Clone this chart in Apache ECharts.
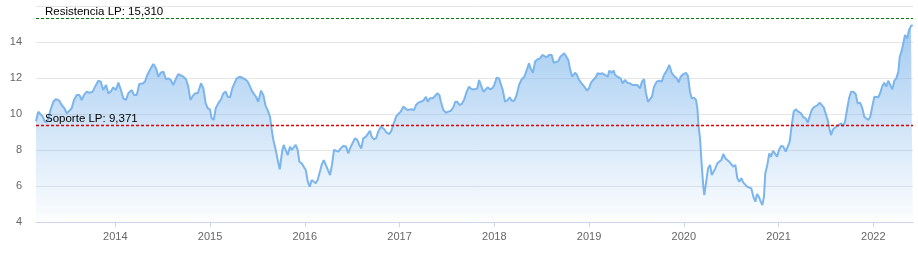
<!DOCTYPE html>
<html>
<head>
<meta charset="utf-8">
<script src="https://cdn.jsdelivr.net/npm/echarts@6/dist/echarts.min.js"></script>
<style>
html,body{margin:0;padding:0;background:#fff;}
#chart{width:918px;height:256px;}
</style>
</head>
<body>
<div id="chart"></div>
<script>
// Dates as decimal years
const dates = [
2013.163,2013.187,2013.205,2013.234,2013.258,2013.282,2013.311,2013.346,2013.374,2013.409,2013.434,2013.462,2013.487,2013.515,2013.540,2013.564,2013.593,2013.620,2013.645,2013.670,2013.698,2013.726,2013.761,2013.786,2013.821,2013.846,2013.873,2013.902,2013.926,2013.951,2013.979,
2014.007,2014.032,2014.057,2014.084,2014.113,2014.137,2014.173,2014.197,2014.226,2014.253,2014.289,2014.313,2014.338,2014.374,2014.401,2014.430,2014.454,2014.479,2014.507,2014.535,2014.559,2014.585,2014.612,2014.641,2014.665,2014.683,2014.718,2014.746,2014.770,2014.792,2014.813,2014.841,2014.870,2014.905,2014.929,2014.954,2014.975,2014.999,
2015.017,2015.039,2015.060,2015.087,2015.116,2015.140,2015.165,2015.186,2015.211,2015.235,2015.256,2015.281,2015.316,2015.334,2015.369,2015.397,2015.422,2015.446,2015.467,2015.485,2015.509,2015.538,2015.562,2015.587,2015.608,2015.633,2015.651,2015.668,2015.693,2015.714,2015.735,2015.749,2015.763,2015.777,2015.798,2015.820,2015.844,2015.862,2015.883,2015.904,2015.925,2015.942,2015.967,2015.988,
2016.010,2016.031,2016.052,2016.073,2016.094,2016.115,2016.136,2016.157,2016.178,2016.200,2016.213,2016.237,2016.266,2016.287,2016.308,2016.329,2016.354,2016.379,2016.406,2016.435,2016.459,2016.477,2016.498,2016.530,2016.554,2016.575,2016.596,2016.617,2016.646,2016.667,2016.688,2016.706,2016.730,2016.752,2016.776,2016.801,2016.822,2016.839,2016.864,2016.889,2016.910,2016.934,2016.963,2016.987,
2017.012,2017.040,2017.061,2017.082,2017.103,2017.128,2017.153,2017.174,2017.198,2017.223,2017.251,2017.279,2017.297,2017.321,2017.350,2017.374,2017.398,2017.420,2017.437,2017.462,2017.490,2017.514,2017.540,2017.567,2017.588,2017.610,2017.631,2017.656,2017.680,2017.709,2017.733,2017.762,2017.796,2017.821,2017.839,2017.860,2017.884,2017.902,2017.930,2017.955,2017.979,
2018.000,2018.025,2018.050,2018.071,2018.089,2018.113,2018.141,2018.163,2018.184,2018.211,2018.236,2018.261,2018.289,2018.317,2018.342,2018.366,2018.387,2018.408,2018.430,2018.458,2018.482,2018.507,2018.528,2018.553,2018.577,2018.606,2018.627,2018.648,2018.676,2018.697,2018.718,2018.739,2018.760,2018.781,2018.802,2018.823,2018.852,2018.873,2018.894,2018.922,2018.950,2018.978,
2019.000,2019.021,2019.045,2019.070,2019.091,2019.116,2019.140,2019.168,2019.197,2019.214,2019.239,2019.260,2019.274,2019.309,2019.334,2019.355,2019.379,2019.404,2019.432,2019.461,2019.485,2019.509,2019.538,2019.559,2019.580,2019.601,2019.622,2019.643,2019.664,2019.686,2019.714,2019.741,2019.767,2019.791,2019.820,2019.847,2019.872,2019.897,2019.925,2019.946,2019.967,2019.995,
2020.023,2020.044,2020.065,2020.083,2020.108,2020.129,2020.143,2020.157,2020.171,2020.189,2020.206,2020.216,2020.234,2020.256,2020.277,2020.295,2020.311,2020.333,2020.354,2020.375,2020.396,2020.417,2020.438,2020.459,2020.480,2020.501,2020.522,2020.544,2020.565,2020.586,2020.607,2020.628,2020.649,2020.670,2020.691,2020.712,2020.734,2020.755,2020.773,2020.791,2020.812,2020.829,2020.846,2020.860,2020.881,2020.902,2020.920,2020.942,2020.963,2020.984,
2021.005,2021.026,2021.050,2021.076,2021.097,2021.118,2021.139,2021.160,2021.181,2021.209,2021.237,2021.261,2021.287,2021.308,2021.329,2021.350,2021.371,2021.392,2021.413,2021.434,2021.455,2021.477,2021.498,2021.519,2021.536,2021.554,2021.575,2021.596,2021.617,2021.638,2021.659,2021.680,2021.701,2021.722,2021.744,2021.765,2021.789,2021.814,2021.835,2021.860,2021.884,2021.905,2021.926,2021.947,2021.968,2021.989,
2022.011,2022.032,2022.053,2022.074,2022.095,2022.116,2022.137,2022.158,2022.179,2022.201,2022.222,2022.243,2022.264,2022.279,2022.300,2022.321,2022.335,2022.356,2022.377,2022.398,2022.416
];
const values = [
9.60,10.13,10.17,9.85,9.57,9.57,10.13,10.68,10.83,10.74,10.50,10.32,10.04,10.18,10.32,10.78,11.06,11.06,10.78,11.06,11.24,11.18,11.24,11.52,11.85,11.80,11.33,11.61,11.15,11.24,11.48,
11.33,11.74,11.37,10.87,10.78,11.15,11.33,11.06,11.06,11.67,11.70,11.80,12.17,12.54,12.78,12.54,12.07,12.29,12.35,11.93,11.98,11.89,11.61,11.98,12.22,12.22,12.07,11.93,11.52,10.78,10.96,11.15,11.15,11.70,11.43,10.59,10.32,10.26,
9.76,9.67,10.32,10.59,10.82,11.15,11.24,10.96,10.93,11.43,11.52,11.98,12.07,12.13,11.93,11.80,11.52,11.24,11.15,10.96,10.68,11.30,11.06,10.44,10.22,9.85,9.11,8.56,8.00,7.44,6.93,6.98,8.00,8.28,8.00,7.72,8.19,8.00,8.09,8.28,8.00,7.35,7.26,7.30,
6.89,6.24,5.96,6.33,6.37,6.15,6.33,6.33,7.17,7.44,7.35,6.98,6.61,7.17,8.00,8.09,7.91,8.09,8.22,8.19,7.81,8.09,8.00,8.65,8.56,8.28,8.09,8.65,8.74,8.70,9.07,8.74,8.59,8.65,9.02,9.30,9.39,9.15,8.96,8.89,9.02,9.39,9.85,10.00,
10.13,10.41,10.46,10.22,10.22,10.26,10.22,10.50,10.63,10.68,10.74,10.96,10.68,10.87,10.87,11.00,11.15,11.06,10.68,10.22,10.07,10.13,10.17,10.37,10.68,10.68,10.50,10.56,10.78,11.24,11.52,11.37,11.37,11.43,11.89,11.80,11.24,11.18,11.48,11.37,11.43,
11.61,12.02,11.98,11.93,11.33,10.68,10.78,10.93,10.74,10.74,11.06,11.61,11.93,12.07,12.44,12.81,12.48,12.29,12.91,13.04,13.09,13.28,13.37,13.15,13.28,13.28,12.85,12.91,12.94,13.18,13.22,13.37,13.41,13.00,12.44,12.07,12.29,12.17,11.89,11.70,11.52,11.30,
11.43,11.74,11.89,12.04,12.26,12.22,12.26,12.17,12.07,12.41,12.29,12.41,12.17,12.04,11.98,11.70,11.89,11.74,11.70,11.61,11.61,11.61,11.43,11.80,11.93,11.15,10.68,10.63,10.96,11.52,11.80,11.85,11.80,12.17,12.41,12.72,12.29,12.11,11.98,11.76,12.07,12.22,
12.29,12.11,11.24,10.87,10.91,10.78,10.32,9.30,8.65,7.17,5.96,5.50,6.15,6.98,7.17,6.61,6.56,6.98,7.26,7.17,7.44,7.78,7.54,7.44,7.35,7.22,7.07,7.17,6.43,6.24,6.43,6.19,6.24,5.96,5.93,5.87,5.41,5.13,5.56,5.41,5.13,4.94,5.41,6.70,7.17,7.81,7.63,7.96,7.85,7.63,
8.00,8.22,8.19,7.91,8.00,8.46,9.39,10.13,10.26,10.13,10.04,9.82,9.76,9.52,9.57,10.22,10.37,10.41,10.50,10.63,10.59,10.37,10.32,9.67,9.20,8.83,9.15,9.26,9.33,9.26,9.48,9.33,9.57,10.22,10.87,11.24,11.24,11.11,10.59,10.63,10.32,9.85,9.94,9.67,9.85,10.41,
10.96,11.00,10.93,11.18,11.56,11.74,11.52,11.85,11.89,11.37,11.85,11.98,12.35,13.18,13.52,13.46,14.39,14.20,14.67,14.89,14.94
];
const yearTicks = [2014,2015,2016,2017,2018,2019,2020,2021,2022];
const resistencia = 15.310;
const soporte = 9.371;
const resistenciaLabel = 'Resistencia LP: 15,310';
const soporteLabel = 'Soporte LP: 9,371';

const seriesData = dates.map((d, i) => [d, values[i]]);
const font = 'Liberation Sans, Arial, sans-serif';

function levelSeries(name, value, label, color, width) {
  return {
    name: name,
    type: 'line',
    data: [],
    color: color,
    silent: true,
    z: 10,
    markLine: {
      silent: true,
      symbol: 'none',
      animation: false,
      z: 10,
      lineStyle: {color: color, type: [3, 2], width: width, opacity: 1},
      label: {
        show: true, position: 'insideStartTop', distance: [9, 1],
        formatter: label,
        color: '#000000', fontSize: 11.5, fontFamily: font
      },
      emphasis: {disabled: true},
      data: [{yAxis: value, lineStyle: {color: color}}]
    }
  };
}

const chart = echarts.init(document.getElementById('chart'), null, {renderer: 'canvas'});
chart.setOption({
  animation: false,
  grid: {left: 36, right: 5, top: 6, bottom: 34, containLabel: false},
  xAxis: {
    type: 'value',
    min: 2013.163,
    max: 2022.419,
    axisLine: {show: true, lineStyle: {color: '#ccd6eb', width: 1}},
    axisTick: {show: true, customValues: yearTicks, length: 5, lineStyle: {color: '#ccd6eb'}},
    axisLabel: {customValues: yearTicks, formatter: v => String(Math.round(v)), color: '#666666', fontSize: 11, fontFamily: font, margin: 9},
    splitLine: {show: false}
  },
  yAxis: {
    type: 'value',
    min: 4, max: 16, interval: 2,
    axisLine: {show: false},
    axisTick: {show: false},
    splitLine: {lineStyle: {color: '#e6e6e6', width: 1}},
    axisLabel: {
      color: '#666666', fontSize: 11, fontFamily: font, margin: 14,
      verticalAlign: 'middle', padding: [0, 0, 14, 0],
      formatter: v => (v === 16 ? '' : String(v))
    }
  },
  series: [{
    type: 'line',
    data: seriesData,
    showSymbol: false,
    symbol: 'none',
    z: 2,
    lineStyle: {color: '#7cb5ec', width: 2},
    itemStyle: {color: '#7cb5ec'},
    areaStyle: {
      color: new echarts.graphic.LinearGradient(0, 0, 0, 1, [
        {offset: 0, color: 'rgba(124,181,236,1)'},
        {offset: 1, color: 'rgba(124,181,236,0.03)'}
      ])
    }
  },
  levelSeries('resistencia', resistencia, resistenciaLabel, '#007a00', 1),
  levelSeries('soporte', soporte, soporteLabel, '#e00000', 1.3)
  ]
});
</script>
</body>
</html>
